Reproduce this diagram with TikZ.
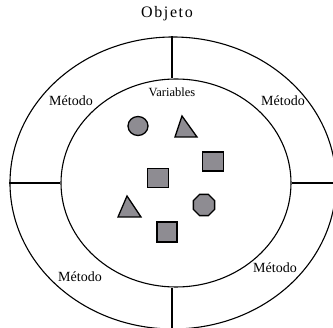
\documentclass[tikz,border=0pt]{standalone}
\usepackage{fontspec}
\setmainfont{Liberation Serif}
\usetikzlibrary{shapes.geometric}
\definecolor{shapegray}{RGB}{142,140,146}
\tikzset{
  ring/.style={draw=black, line width=1.1pt, ellipse, inner sep=0pt},
  divider/.style={draw=black, line width=1.1pt},
  item/.style={draw=black, line width=1.3pt, fill=shapegray, inner sep=0pt},
  sq/.style={item, rectangle, minimum width=21pt, minimum height=19pt},
  lbl/.style={font=\fontsize{14}{15}\selectfont, inner sep=0pt},
}
\begin{document}
\begin{tikzpicture}[x=1pt,y=-1pt]
\useasboundingbox (0,0) rectangle (333,328);
\node[ring, minimum width=326pt, minimum height=292pt] (outer) at (173,183) {};
\node[ring, minimum width=230pt, minimum height=208pt] (inner) at (176,183) {};
\coordinate (tA) at (172,0);
\draw[divider] (outer.north -| tA) -- (inner.north -| tA);
\draw[divider] (outer.south -| tA) -- (inner.south -| tA);
\draw[divider] (outer.west) -- (inner.west |- outer.west);
\draw[divider] (outer.east) -- (inner.east |- outer.east);
\node[font=\fontsize{16}{17}\selectfont\addfontfeature{LetterSpace=10}, inner sep=0pt] (obj) at (167,14) {Objeto};
\node[font=\fontsize{12.5}{13}\selectfont, inner sep=0pt] (vars) at (172,92) {Variables};
\node[lbl] (m1) at (71,101) {Método};
\node[lbl] (m2) at (283,101) {Método};
\node[lbl] (m3) at (80,277) {Método};
\node[lbl] (m4) at (275,268) {Método};
\node[item, ellipse, minimum width=20pt, minimum height=19pt] (c1) at (138,126) {};
\draw[item] (175,137) -- (197,137) -- (182,116) -- cycle;
\node[sq] (s1) at (213,161.5) {};
\node[sq] (s2) at (158,178) {};
\draw[item] (118,217) -- (141,217) -- (127,196) -- cycle;
\node[item, regular polygon, regular polygon sides=8, minimum size=23pt] (oc) at (204,205) {};
\node[sq, minimum width=20pt, minimum height=20pt] (s3) at (167,232) {};
\end{tikzpicture}
\end{document}
